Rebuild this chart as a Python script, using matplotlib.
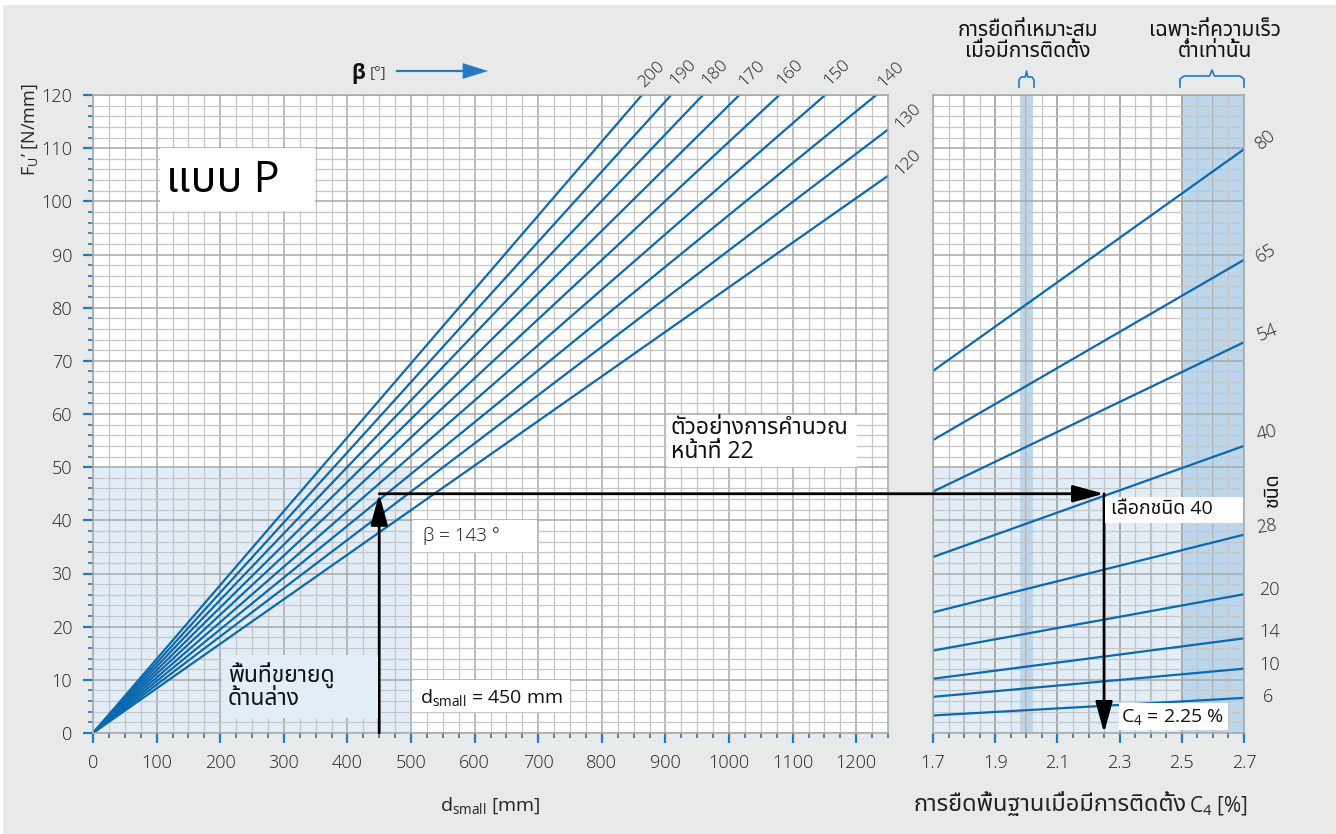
import matplotlib
matplotlib.use('Agg')
import matplotlib.pyplot as plt
from matplotlib.patches import Rectangle, ConnectionPatch
from matplotlib.lines import Line2D
from matplotlib.ticker import MultipleLocator

FAM = ['Open Sans', 'Noto Sans Thai', 'Noto Sans Thai UI', 'Loma', 'Garuda',
       'Tlwg Typo', 'Kinnari', 'Noto Sans', 'DejaVu Sans']
plt.rcParams['font.family'] = FAM
plt.rcParams['mathtext.fontset'] = 'custom'
plt.rcParams['mathtext.rm'] = 'Open Sans'
plt.rcParams['mathtext.it'] = 'Open Sans'
plt.rcParams['mathtext.bf'] = 'Open Sans:bold'

# ---------------- data ----------------
d_small_ends = [0, 1250]                      # mm, line end points
beta_deg = [120, 130, 140, 150, 160, 170, 180, 190, 200]
fu_at_d_end = [104.8, 113.5, 121.8, 130.3, 139.0, 147.6, 156.4, 165.0, 173.8]

c4_ends = [1.7, 2.7]                          # %
type_ids = [6, 10, 14, 20, 28, 40, 54, 65, 80]
fu_at_c4_start = [3.3, 6.8, 10.2, 15.5, 22.7, 33.1, 45.4, 55.1, 68.1]
fu_at_c4_end = [6.6, 12.1, 17.8, 26.1, 37.3, 54.0, 73.5, 89.0, 109.8]

x_ticks_left = [0, 100, 200, 300, 400, 500, 600, 700, 800, 900, 1000, 1100, 1200]
y_ticks = [0, 10, 20, 30, 40, 50, 60, 70, 80, 90, 100, 110, 120]
x_ticks_right = [1.7, 1.9, 2.1, 2.3, 2.5, 2.7]

ex_d, ex_beta, ex_fu, ex_c4, ex_type = 450, 143, 45, 2.25, 40
lower_zoom_d, lower_zoom_fu = 500, 50
band_good = [1.98, 2.02]
band_low_speed = [2.5, 2.7]

# ---------------- style ----------------
W, H = 1336, 834
BG = '#e8e9e9'
BLUE = '#0b69b0'
TICKBLUE = '#2479c0'
LIGHT = '#e2edf7'
BAND = '#bcd6ec'
GMIN = '#c6c6c6'
GMAJ = '#a8a8a8'
TXT = '#222222'


def P(x, y):
    return (x / W, 1 - y / H)


fig = plt.figure(figsize=(W / 100, H / 100), dpi=100, facecolor='white')
fig.patches.append(Rectangle(P(3, 834), (W - 3) / W, (834 - 5) / H,
                             transform=fig.transFigure, facecolor=BG,
                             edgecolor='none', zorder=-10))

ax1 = fig.add_axes([93 / W, 1 - 733 / H, (888 - 93) / W, (733 - 95) / H])
ax2 = fig.add_axes([933 / W, 1 - 733 / H, (1244 - 933) / W, (733 - 95) / H])

for ax in (ax1, ax2):
    ax.set_ylim(0, 120)
    ax.set_axisbelow(True)
    ax.yaxis.set_major_locator(MultipleLocator(10))
    ax.yaxis.set_minor_locator(MultipleLocator(2))
    ax.grid(which='minor', color=GMIN, lw=0.9)
    ax.grid(which='major', color=GMAJ, lw=1.1)
    for s in ax.spines.values():
        s.set_color(GMAJ)
        s.set_linewidth(1.1)
    ax.tick_params(which='both', colors=TICKBLUE, labelcolor=TXT,
                   labelsize=13, direction='out')
    ax.tick_params(which='major', length=7, width=1.6, pad=8)
    ax.tick_params(which='minor', length=3.5, width=1.2)

ax1.set_xlim(0, 1250)
ax1.set_xticks(x_ticks_left)
ax1.xaxis.set_minor_locator(MultipleLocator(25))
ax1.set_yticks(y_ticks)

ax2.set_xlim(c4_ends[0], c4_ends[1])
ax2.set_xticks(x_ticks_right)
ax2.set_xticks([v / 100 for v in range(170, 271, 5)], minor=True)
ax2.set_xticklabels([f'{v:.1f}' for v in x_ticks_right])
ax2.tick_params(axis='y', which='both', left=False, labelleft=False)
for v in range(170, 271, 10):
    ax2.axvline(v / 100, color=GMAJ, lw=1.1, zorder=0.5)

for ax in (ax1, ax2):
    for lab in ax.get_xticklabels() + ax.get_yticklabels():
        lab.set_fontweight('light')

# shading
ax1.add_patch(Rectangle((0, 0), lower_zoom_d, lower_zoom_fu, facecolor=LIGHT,
                        edgecolor='none', zorder=0.2))
ax2.add_patch(Rectangle((c4_ends[0], 0), c4_ends[1] - c4_ends[0], lower_zoom_fu,
                        facecolor=LIGHT, edgecolor='none', zorder=0.2))
ax2.axvspan(band_good[0], band_good[1], facecolor=BAND, edgecolor='none', zorder=0.3)
ax2.axvspan(band_low_speed[0], band_low_speed[1], facecolor=BAND, edgecolor='none', zorder=0.3)

# lines
for b, fu in zip(beta_deg, fu_at_d_end):
    ax1.plot(d_small_ends, [0, fu], color=BLUE, lw=1.6, zorder=2, solid_capstyle='butt')
for t, a, b in zip(type_ids, fu_at_c4_start, fu_at_c4_end):
    ax2.plot(c4_ends, [a, b], color=BLUE, lw=1.6, zorder=2)

# axis labels
fig.text(*P(490, 806), 'd$_{\\mathrm{small}}$ [mm]', ha='center', va='center',
         fontsize=14, color=TXT)
fig.text(*P(30, 130), 'F$_{\\mathrm{U}}$’ [N/mm]', ha='center', va='center',
         rotation=90, fontsize=13, color=TXT)
fig.text(*P(1187, 804), 'การยืดพื้นฐานเมื่อมีการติดตั้ง', ha='right',
         va='center', fontsize=17, color=TXT)
fig.text(*P(1189, 806), 'C$_4$ [%]', ha='left', va='center', fontsize=15, color=TXT)

# beta labels
beta_label_px = {200: (652, 75), 190: (683, 73), 180: (715, 73), 170: (752, 74),
                 160: (790, 73), 150: (837, 73), 140: (891, 75), 130: (908, 117),
                 120: (908, 163)}
for b in beta_deg:
    fig.text(*P(*beta_label_px[b]), str(b), rotation=45, ha='center', va='center',
             fontsize=12.5, color=TXT, fontweight='light')

# type labels
type_label = {80: (1266, 140, 40), 65: (1266, 253, 32), 54: (1267, 333, 22),
              40: (1267, 433, 12), 28: (1267, 527, 8), 20: (1269, 590, 0),
              14: (1270, 632, 0), 10: (1270, 665, 0), 6: (1268, 697, 0)}
for t in type_ids:
    x, y, r = type_label[t]
    fig.text(*P(x, y), str(t), rotation=r, ha='center', va='center',
             fontsize=13, color=TXT, fontweight='light')
fig.text(*P(1273, 490), 'ชนิด', rotation=90, ha='center', va='center',
         fontsize=14, fontweight='bold', color='#111111')

# beta arrow header
fig.text(*P(358, 73), 'β', ha='center', va='center', fontsize=15,
         fontweight='bold', color='#111111')
fig.text(*P(370, 73), '[°]', ha='left', va='center', fontsize=11, color='#444444')
fig.add_artist(Line2D([397 / W, 470 / W], [1 - 71 / H, 1 - 71 / H],
                      color=TICKBLUE, lw=1.6))
fig.add_artist(ConnectionPatch(P(465, 71), P(488, 71), 'figure fraction', 'figure fraction',
                               arrowstyle='-|>,head_length=0.9,head_width=0.28',
                               mutation_scale=20, color=TICKBLUE, lw=0.1))

# top right captions
fig.text(*P(1028, 41), 'การยืดที่เหมาะสม\nเมื่อมีการติดตั้ง', ha='center', va='center',
         fontsize=15, color='#111111', linespacing=0.95)
fig.text(*P(1215, 41), 'เฉพาะที่ความเร็ว\nต่ำเท่านั้น', ha='center', va='center',
         fontsize=15, color='#111111', linespacing=0.95)


def brace(x0, x1, ybot, ytop, ypeak, r):
    xm = (x0 + x1) / 2
    xs = [x0, x0, x0 + r, xm - r * 0.6, xm, xm + r * 0.6, x1 - r, x1, x1]
    ys = [ybot, ytop + 3, ytop, ytop, ypeak, ytop, ytop, ytop + 3, ybot]
    fig.add_artist(Line2D([x / W for x in xs], [1 - y / H for y in ys],
                          color=TICKBLUE, lw=1.2))


brace(1019, 1034, 87, 77, 71, 2)
brace(1180, 1244, 87, 76, 70, 4)


# boxes
def box(x0, y0, x1, y1, color='white'):
    fig.patches.append(Rectangle(P(x0, y1), (x1 - x0) / W, (y1 - y0) / H,
                                 transform=fig.transFigure, facecolor=color,
                                 edgecolor='none', zorder=2))


box(160, 148, 315, 211)
fig.text(*P(166, 181), 'แบบ P', ha='left', va='center', fontsize=31, color='#000000',
         zorder=3)
box(222, 655, 378, 718, LIGHT)
fig.text(*P(228, 686), 'พื้นที่ขยายดู\nด้านล่าง', ha='left', va='center',
         fontsize=16.5, color='#111111', linespacing=0.95, zorder=3)
box(413, 680, 570, 712)
fig.text(*P(420, 697), 'd$_{\\mathrm{small}}$ = 450 mm', ha='left', va='center',
         fontsize=14, color='#111111', zorder=3)
box(413, 520, 537, 552)
fig.text(*P(423, 536), 'β = 143 °', ha='left', va='center', fontsize=13.5,
         color='#111111', zorder=3, fontweight='light')
box(667, 415, 857, 467)
fig.text(*P(671, 440), 'ตัวอย่างการคำนวณ\nหน้าที่ 22', ha='left', va='center',
         fontsize=16.5, color='#111111', linespacing=0.95, zorder=3)
box(1105, 497, 1243, 523)
fig.text(*P(1111, 509), 'เลือกชนิด 40', ha='left', va='center', fontsize=14,
         color='#111111', zorder=3)
box(1119, 703, 1228, 730)
fig.text(*P(1121, 717), 'C$_4$ = 2.25 %', ha='left', va='center', fontsize=14,
         color='#111111', zorder=3)

# example arrows
astyle = '-|>,head_length=0.95,head_width=0.26'
ax1.annotate('', xy=(ex_d, ex_fu), xytext=(ex_d, 0),
             arrowprops=dict(arrowstyle=astyle, mutation_scale=20, color='black',
                             lw=2, shrinkA=0, shrinkB=0), zorder=5)
fig.add_artist(ConnectionPatch((ex_d, ex_fu), (ex_c4, ex_fu), 'data', 'data',
                               axesA=ax1, axesB=ax2, arrowstyle=astyle,
                               mutation_scale=20, color='black', lw=2,
                               shrinkA=0, shrinkB=0, zorder=5))
ax2.annotate('', xy=(ex_c4, 0), xytext=(ex_c4, ex_fu),
             arrowprops=dict(arrowstyle=astyle, mutation_scale=20, color='black',
                             lw=2, shrinkA=0, shrinkB=0), zorder=5)

fig.savefig('out.png', dpi=100, facecolor=fig.get_facecolor())
